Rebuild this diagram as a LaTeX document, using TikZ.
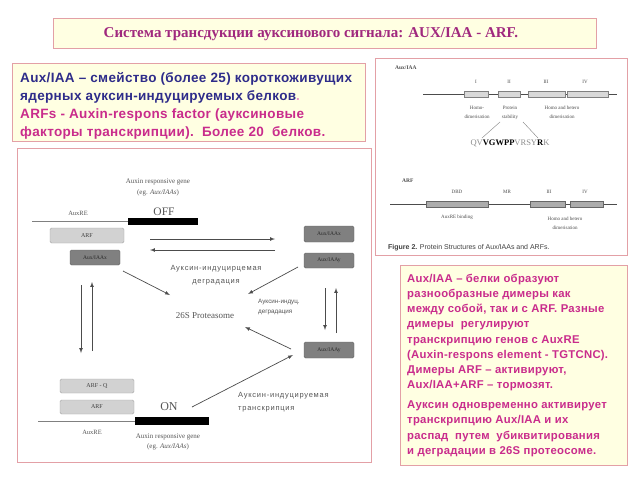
\documentclass[tikz,border=0pt]{standalone}
\usepackage{fontspec}
\setmainfont{Liberation Serif}
\setsansfont{Liberation Sans}
\newfontfamily\rusp[LetterSpace=10]{Liberation Sans}
\newfontfamily\boxfont[LetterSpace=2.5]{Liberation Sans}
\newcommand\fsz[2]{\fontsize{#1}{#2}\selectfont}

\definecolor{panelline}{HTML}{E3A0A6}
\definecolor{paleyellow}{HTML}{FFFFE2}
\definecolor{titlecol}{HTML}{A0287E}
\definecolor{bluetext}{HTML}{2E2C8A}
\definecolor{pinktext}{HTML}{C92C8C}
\definecolor{scan}{HTML}{555555}

\tikzset{
  panel/.style={draw=panelline, line width=1pt},
  lightbox/.style={draw=gray!70, fill=gray!35, rounded corners=1.5pt, inner sep=0pt,
    minimum width=74pt, minimum height=15pt, font=\fsz{6}{6}, text=black!75},
  darkbox/.style={draw=black!60, fill=black!50, rounded corners=1.5pt, inner sep=0pt,
    minimum width=50pt, minimum height=16pt, font=\fsz{5.5}{6}, text=black!85},
  diagtext/.style={font=\fsz{7}{10.5}, text=scan, align=center, inner sep=0pt},
  rutext/.style={font=\rusp\fsz{7.5}{13}, text=scan, align=left, inner sep=0pt},
  arr/.style={->, >=latex, black!70, line width=0.7pt},
  domlight/.style={draw=gray, fill=gray!30, inner sep=0pt, minimum height=6pt},
  domdark/.style={draw=gray!80!black, fill=gray!65, inner sep=0pt, minimum height=6pt},
  figtext/.style={font=\fsz{5}{9}, text=black!70, align=center, inner sep=0pt}
}

\begin{document}
\begin{tikzpicture}[x=1pt,y=-1pt]
\useasboundingbox (0,0) rectangle (640,480);

% panels
\draw[panel,fill=paleyellow] (53,18) rectangle (596,48);
\draw[panel,fill=paleyellow] (12,63) rectangle (365,141);
\draw[panel,fill=white] (17,148) rectangle (371,462);
\draw[panel,fill=white] (375,58) rectangle (627,255);
\draw[panel,fill=paleyellow] (400,265) rectangle (627,465);

\node[font=\fsz{15}{16}\bfseries, text=titlecol] (title) at (311,34)
  {Система трансдукции ауксинового сигнала: AUX/IAA - ARF.};

\node[font=\boxfont\bfseries\fsz{13.5}{18.3}, align=left, anchor=north west, inner sep=0pt] (intro) at (20,71.8)
  {\color{bluetext}Aux/IAA – смейство (более 25) короткоживущих\\
   \color{bluetext}ядерных ауксин-индуцируемых белков\color{pinktext!50}.\\
   \color{pinktext}ARFs - Auxin-respons factor (ауксиновые\\
   \color{pinktext}факторы транскрипции).~~Более 20~~белков.};

\node[font=\boxfont\bfseries\fsz{11.3}{15.2}, text=pinktext, align=left, anchor=north west, inner sep=0pt] (notes) at (407,273.8)
  {Aux/IAA – белки образуют\\
   разнообразные димеры как\\
   между собой, так и с ARF. Разные\\
   димеры~ регулируют\\
   транскрипцию генов с AuxRE\\
   (Auxin-respons element - TGTCNC).\\
   Димеры ARF – активируют,\\
   Aux/IAA+ARF – тормозят.\\[4.8pt]
   Ауксин одновременно активирует\\
   транскрипцию Aux/IAA и их\\
   распад~ путем~ убиквитирования\\
   и деградации в 26S протеосоме.};

% gene OFF
\node[diagtext] (geneoff) at (158,187.5) {Auxin responsive gene\\(eg. \textit{Aux/IAAs})};
\node[diagtext, font=\fsz{6.5}{7}] (reoff) at (78,213) {AuxRE};
\node[diagtext, font=\fsz{11.5}{12}] (off) at (164,212) {OFF};
\draw[gray] (32,221) -- (128,221);
\fill (128,218) rectangle (198,225);
\node[lightbox] (arfoff) at (87,235.5) {ARF};
\node[darkbox, minimum height=15pt] (auxl) at (95,257.5) {Aux/IAAx};
\node[darkbox] (auxrx) at (329,234) {Aux/IAAx};
\node[darkbox, minimum height=15pt] (auxry) at (329,260.5) {Aux/IAAy};

% gene ON
\node[darkbox] (auxlow) at (329,350) {Aux/IAAy};
\node[diagtext, font=\fsz{9}{10}] (prot) at (205,316) {26S Proteasome};
\node[lightbox, minimum height=14pt] (arfq) at (97,386) {ARF - Q};
\node[lightbox, minimum height=14pt] (arfon) at (97,407) {ARF};
\node[diagtext, font=\fsz{12}{12}] (on) at (169,407) {ON};
\draw[gray] (38,421) -- (135,421);
\fill (135,417) rectangle (209,425);
\node[diagtext, font=\fsz{6.5}{7}] (reon) at (92,432) {AuxRE};
\node[diagtext] (geneon) at (168,442) {Auxin responsive gene\\(eg. \textit{Aux/IAAs})};

\node[rutext, align=center] (degr) at (216,275) {Ауксин-индуцирцемая\\деградация};
\node[rutext, font=\sffamily\fsz{6.3}{10}, anchor=west] (degr2) at (258,307) {Ауксин-индуц.\\деградация};
\node[rutext, anchor=west] (transc) at (238,402) {Ауксин-индуцируемая\\транскрипция};

% arrows
\coordinate (fw1) at (150,239); \coordinate (fw2) at (275,239);
\coordinate (bw1) at (275,250); \coordinate (bw2) at (150,250);
\draw[arr] (fw1) -- (fw2);
\draw[arr] (bw1) -- (bw2);
\coordinate (dl1) at (123,271); \coordinate (dl2) at (170,295);
\coordinate (dr1) at (298,267); \coordinate (dr2) at (248,294);
\draw[arr] (dl1) -- (dl2);
\draw[arr] (dr1) -- (dr2);
\coordinate (vd1) at (81,285); \coordinate (vd2) at (81,353);
\coordinate (vu1) at (92,351); \coordinate (vu2) at (92,282);
\draw[arr] (vd1) -- (vd2);
\draw[arr] (vu1) -- (vu2);
\coordinate (rd1) at (325,288); \coordinate (rd2) at (325,330);
\coordinate (ru1) at (336,333); \coordinate (ru2) at (336,288);
\draw[arr] (rd1) -- (rd2);
\draw[arr] (ru1) -- (ru2);
\coordinate (pr1) at (291,349); \coordinate (pr2) at (245,327);
\draw[arr] (pr1) -- (pr2);
\coordinate (tr1) at (192,407); \coordinate (tr2) at (293,355);
\draw[arr] (tr1) -- (tr2);

% protein structures
\node[figtext, font=\bfseries\fsz{5.5}{6}, anchor=west] (auxname) at (395,68) {Aux/IAA};
\draw[black!70, line width=0.8pt] (423,94) -- (617,94);
\node[domlight, minimum width=24pt] (dI) at (476,94) {};
\node[domlight, minimum width=22pt] (dII) at (509,94) {};
\node[domlight, minimum width=37pt] (dIII) at (546.5,94) {};
\node[domlight, minimum width=41pt] (dIV) at (587.5,94) {};
\node[figtext] (lI) at (476,82) {I};
\node[figtext] (lII) at (509,82) {II};
\node[figtext] (lIII) at (546,82) {III};
\node[figtext] (lIV) at (585,82) {IV};
\node[figtext] (homo) at (477,112.5) {Homo-\\dimerisation};
\node[figtext] (stab) at (510,112.5) {Protein\\stability};
\node[figtext] (hetero) at (562,112.5) {Homo and hetero\\dimerisation};
\node[figtext, font=\fsz{8.5}{9}, text=black!45] (seq) at (510,143)
  {QV\textcolor{black}{\textbf{VGWPP}}VRSY\textcolor{black}{\textbf{R}}K};
\coordinate (sl1) at (500,122); \coordinate (sl2) at (482,138);
\coordinate (sr1) at (523,122); \coordinate (sr2) at (538,138);
\draw[black!50, line width=0.4pt] (sl1) -- (sl2);
\draw[black!50, line width=0.4pt] (sr1) -- (sr2);

\node[figtext, font=\bfseries\fsz{5.5}{6}, anchor=west] (arfname) at (402,181) {ARF};
\draw[black!70, line width=0.8pt] (390,204) -- (617,204);
\node[domdark, minimum width=62pt] (dbd) at (457,204) {};
\node[domdark, minimum width=35pt] (aIII) at (547.5,204) {};
\node[domdark, minimum width=33pt] (aIV) at (586.5,204) {};
\node[figtext] (ldbd) at (457,192) {DBD};
\node[figtext] (lmr) at (507,192) {MR};
\node[figtext] (laIII) at (549,192) {III};
\node[figtext] (laIV) at (585,192) {IV};
\node[figtext] (bind) at (457,217) {AuxRE binding};
\node[figtext] (ahetero) at (565,223.5) {Homo and hetero\\dimerisation};
\node[font=\sffamily\fsz{7}{8}, text=black!75, anchor=west, inner sep=0pt] (caption) at (388,248)
  {\textbf{Figure 2.} Protein Structures of Aux/IAAs and ARFs.};
\end{tikzpicture}
\end{document}
